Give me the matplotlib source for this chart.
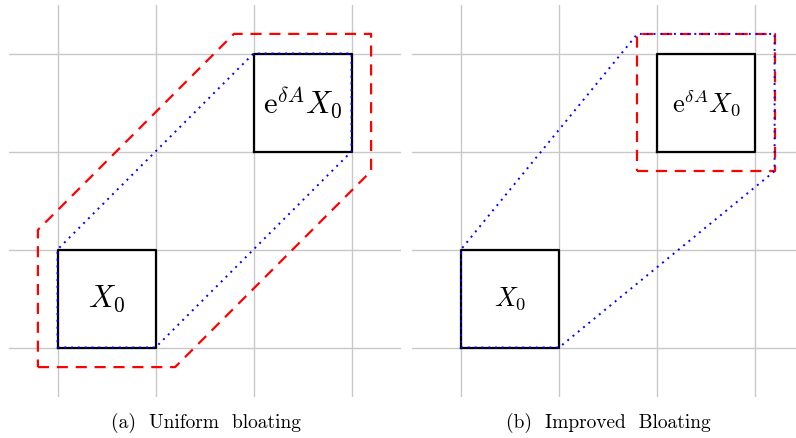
import matplotlib.pyplot as plt

plt.rcParams['mathtext.fontset'] = 'cm'

# boxes (x0, y0, x1, y1)
box_start = (0, 0, 1, 1)
box_end = (2, 2, 3, 3)

# hull of the two boxes
hull_a = [(0, 0), (1, 0), (3, 2), (3, 3), (2, 3), (0, 1)]
# uniformly bloated hull
red_a = [(-0.2, -0.2), (1.2, -0.2), (3.2, 1.8), (3.2, 3.2), (1.8, 3.2), (-0.2, 1.2)]
# improved: bloated end box only, hull with start box
red_b = [(1.8, 1.8), (3.2, 1.8), (3.2, 3.2), (1.8, 3.2)]
hull_b = [(0, 0), (1, 0), (3.2, 1.8), (3.2, 3.2), (1.8, 3.2), (0, 1)]

grid_ticks = [0, 1, 2, 3]
captions = ['(a)  Uniform  bloating', '(b)  Improved  Bloating']
label_sizes = [22, 19]


def closed(pts):
    xs = [p[0] for p in pts] + [pts[0][0]]
    ys = [p[1] for p in pts] + [pts[0][1]]
    return xs, ys


def draw_box(ax, b):
    x0, y0, x1, y1 = b
    ax.plot([x0, x1, x1, x0, x0], [y0, y0, y1, y1, y0], color='black', lw=1.6, zorder=3)


fig = plt.figure(figsize=(7.96, 4.38), dpi=100)
ax_a = fig.add_axes([8.5 / 796, 41.5 / 438, 392 / 796, 392 / 438])
ax_b = fig.add_axes([412 / 796, 41.5 / 438, 392 / 796, 392 / 438])

for i, (ax, red, hull) in enumerate([(ax_a, red_a, hull_a), (ax_b, red_b, hull_b)]):
    ax.set_xlim(-0.5, 3.5)
    ax.set_ylim(-0.5, 3.5)
    for t in grid_ticks:
        ax.axvline(t, color='#c8c8c8', lw=1.0, zorder=1)
        ax.axhline(t, color='#c8c8c8', lw=1.0, zorder=1)
    ax.axis('off')
    draw_box(ax, box_start)
    draw_box(ax, box_end)
    rx, ry = closed(red)
    ax.plot(rx, ry, color='red', lw=1.6, ls=(0, (5, 3.5)), zorder=4)
    hx, hy = closed(hull)
    ax.plot(hx, hy, color='blue', lw=1.4, ls=(0, (1, 2.5)), zorder=5)
    fs = label_sizes[i]
    ax.text(0.5, 0.5, r'$X_0$', fontsize=fs, ha='center', va='center', zorder=6)
    ax.text(2.5, 2.5, r'$\mathrm{e}^{\delta A}X_0$', fontsize=fs, ha='center', va='center', zorder=6)

fig.text(206 / 796, 1 - 423 / 438, captions[0], fontsize=14, family='cmr10', ha='center', va='center')
fig.text(608 / 796, 1 - 423 / 438, captions[1], fontsize=14, family='cmr10', ha='center', va='center')

fig.savefig('out.png', dpi=100)
